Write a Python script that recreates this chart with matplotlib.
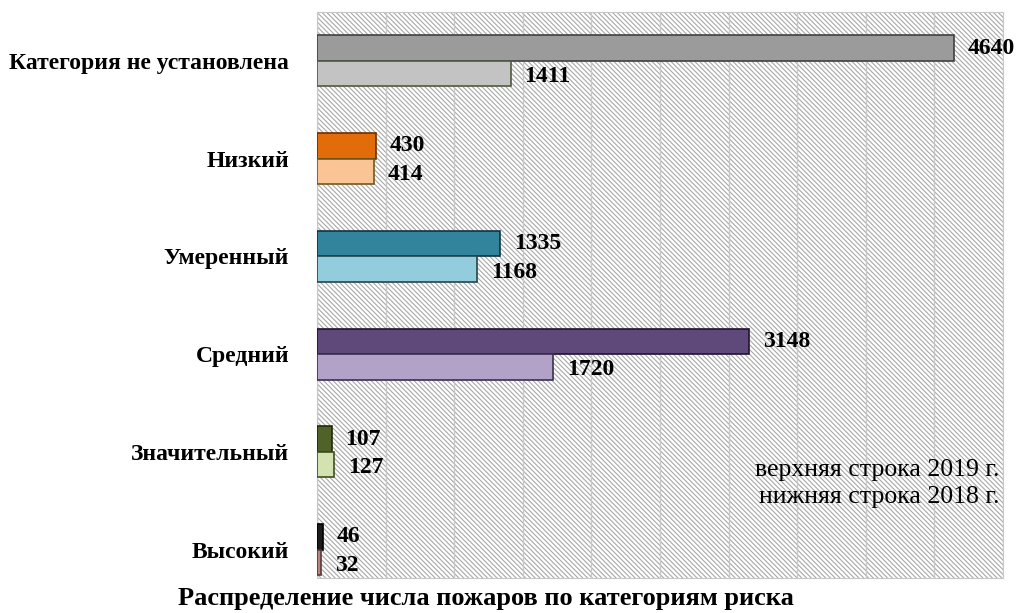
import matplotlib.pyplot as plt
from matplotlib.patches import Rectangle

# данные: число пожаров по категориям риска
categories = ['Категория не установлена', 'Низкий', 'Умеренный',
              'Средний', 'Значительный', 'Высокий']
fires_2019 = [4640, 430, 1335, 3148, 107, 46]
fires_2018 = [1411, 414, 1168, 1720, 127, 32]

colors_2019 = ['#9b9b9b', '#e26b0a', '#31849b', '#5f497a', '#4f6228', '#1c1c1c']
colors_2018 = ['#c3c3c3', '#fbc494', '#93cddd', '#b3a2c7', '#d2e2b0', '#b9837e']
edges_2019 = ['#404040', '#6b3000', '#0f3340', '#20132e', '#1f2a0a', '#000000']
edges_2018 = ['#505a40', '#6b5a20', '#23464a', '#3a3050', '#3f4f20', '#5a3a38']

plt.rcParams['font.family'] = ['Liberation Serif', 'DejaVu Serif']
plt.rcParams['hatch.linewidth'] = 0.8

fig = plt.figure(figsize=(10.18, 6.13), dpi=100)
ax = fig.add_axes([0.3114, 0.0571, 0.6739, 0.9233])

# штриховка фона
ax.add_patch(Rectangle((0, 0), 1, 1, transform=ax.transAxes, facecolor='white',
                       edgecolor='#a8a8a8', linewidth=0, hatch='\\' * 7, zorder=0))

h = 0.26
pos = list(range(len(categories)))
ax.barh([p - h / 2 for p in pos], fires_2019, height=h, color=colors_2019,
        edgecolor=edges_2019, linewidth=1.2, zorder=3)
ax.barh([p + h / 2 for p in pos], fires_2018, height=h, color=colors_2018,
        edgecolor=edges_2018, linewidth=1.2, zorder=3)

for p, v in zip(pos, fires_2019):
    ax.text(v + 100, p - h / 2, str(v), va='center', ha='left',
            fontsize=17, fontweight='bold', zorder=4)
for p, v in zip(pos, fires_2018):
    ax.text(v + 100, p + h / 2 + 0.03, str(v), va='center', ha='left',
            fontsize=17, fontweight='bold', zorder=4)

ax.set_xlim(0, 5000)
ax.set_ylim(5.29, -0.5)
ax.set_xticks(range(0, 5001, 500))
ax.set_xticklabels([])
ax.tick_params(axis='x', length=0)
ax.grid(axis='x', color='#c8c8c8', linewidth=1, zorder=1)
ax.set_axisbelow(True)
ax.set_yticks(pos)
ax.set_yticklabels(categories, fontsize=17, fontweight='bold')
ax.tick_params(axis='y', length=0, pad=20)
for s in ax.spines.values():
    s.set_color('#c8c8c8')

fig.text(0.982, 0.233, 'верхняя строка 2019 г.', ha='right', va='center', fontsize=18.5)
fig.text(0.982, 0.189, 'нижняя строка 2018 г.', ha='right', va='center', fontsize=18.5)
fig.text(0.477, 0.024, 'Распределение числа пожаров по категориям риска',
         ha='center', va='center', fontsize=19, fontweight='bold')

fig.savefig('out.png', dpi=100)
